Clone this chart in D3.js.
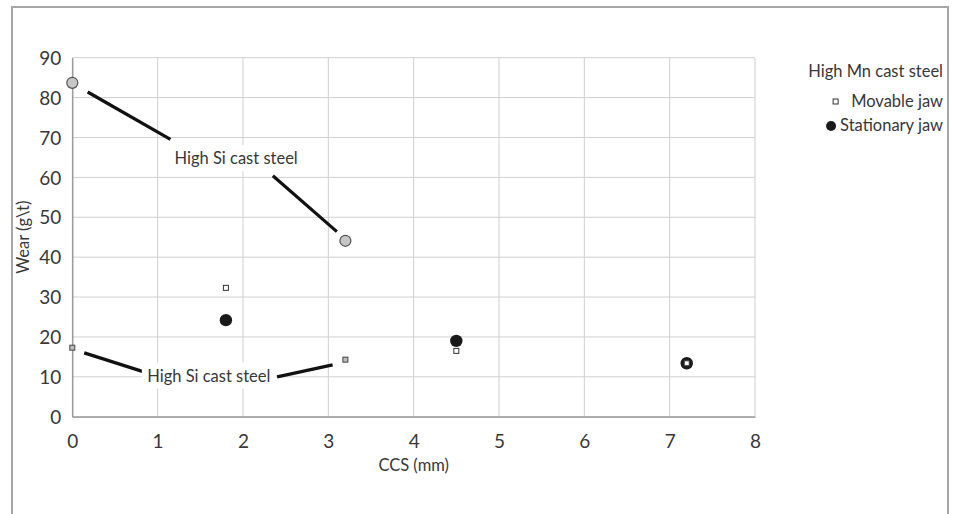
<!DOCTYPE html>
<html>
<head>
<meta charset="utf-8">
<script src="https://cdn.jsdelivr.net/npm/d3@7"></script>
<style>
  body { margin: 0; background: #fff; }
  text { font-family: Lato, "Open Sans", sans-serif; font-weight: 400; fill: #383838; }
</style>
</head>
<body>
<div id="chart"></div>
<script>

// data
const xTicks = [0, 1, 2, 3, 4, 5, 6, 7, 8];
const yTicks = [0, 10, 20, 30, 40, 50, 60, 70, 80, 90];

// High Si cast steel (grey markers)
const siStationaryX = [0, 3.2];
const siStationaryY = [83.7, 44.1];
const siMovableX = [0, 3.2];
const siMovableY = [17.3, 14.3];

// High Mn cast steel
const mnMovableX = [1.8, 4.5, 7.2];
const mnMovableY = [32.3, 16.5, 13.4];
const mnStationaryX = [1.8, 4.5, 7.2];
const mnStationaryY = [24.2, 19.0, 13.4];

// callout lines, in data units
const calloutLines = [
  [[0.18, 81.4], [1.15, 69.5]],
  [[2.35, 60.4], [3.10, 46.4]],
  [[0.14, 16.0], [0.83, 11.3]],
  [[2.40, 10.0], [3.05, 13.0]]
];
const calloutLabels = [
  {x: 1.92, y: 63.3, text: "High Si cast steel"},
  {x: 1.60, y: 8.8, text: "High Si cast steel"}
];

const legendTitle = "High Mn cast steel";
const legendItems = ["Movable jaw", "Stationary jaw"];

// set the dimensions
const W = 955, H = 514;
const margin = {top: 57.7, left: 72.3},
    width = 755 - 72.3,
    height = 416.7 - 57.7;
const fs = 16.5;

const svg = d3.select("#chart")
  .append("svg")
    .attr("width", W)
    .attr("height", H);

// outer frame
svg.append("rect")
    .attr("x", 12).attr("y", 7)
    .attr("width", 936).attr("height", 560)
    .attr("fill", "none")
    .attr("stroke", "#a6a6a6")
    .attr("stroke-width", 2);

const g = svg.append("g")
    .attr("transform", `translate(${margin.left},${margin.top})`);

const x = d3.scaleLinear().domain([0, 8]).range([0, width]);
const y = d3.scaleLinear().domain([0, 90]).range([height, 0]);

// grid
g.append("g")
  .selectAll("line")
  .data(xTicks)
  .join("line")
    .attr("x1", d => x(d)).attr("x2", d => x(d))
    .attr("y1", 0).attr("y2", height)
    .attr("stroke", "#d0d0d0");
g.append("g")
  .selectAll("line")
  .data(yTicks)
  .join("line")
    .attr("x1", 0).attr("x2", width)
    .attr("y1", d => y(d)).attr("y2", d => y(d))
    .attr("stroke", "#d0d0d0");

// axes
const xAxis = g.append("g")
    .attr("transform", `translate(0,${height})`)
    .call(d3.axisBottom(x).tickValues(xTicks).tickSize(0).tickPadding(18));
const yAxis = g.append("g")
    .call(d3.axisLeft(y).tickValues(yTicks).tickSize(0).tickPadding(11));
[xAxis, yAxis].forEach(a => {
  a.select(".domain").attr("stroke", "#8c8c8c").attr("stroke-width", 1.2);
  a.selectAll("text")
    .style("font-family", "Lato, sans-serif")
    .style("font-size", "19px")
    .attr("fill", "#383838");
});
yAxis.selectAll("text").attr("dy", "0.35em");

// axis titles
svg.append("text")
    .attr("x", margin.left + width / 2)
    .attr("y", 471)
    .attr("text-anchor", "middle")
    .style("font-size", fs + "px")
    .text("CCS (mm)");
svg.append("text")
    .attr("transform", `translate(29,${margin.top + height / 2}) rotate(-90)`)
    .attr("text-anchor", "middle")
    .style("font-size", fs + "px")
    .text("Wear (g\\t)");

// callouts
g.append("g")
  .selectAll("line")
  .data(calloutLines)
  .join("line")
    .attr("x1", d => x(d[0][0])).attr("y1", d => y(d[0][1]))
    .attr("x2", d => x(d[1][0])).attr("y2", d => y(d[1][1]))
    .attr("stroke", "#111")
    .attr("stroke-width", 3.2);

const lab = g.append("g")
  .selectAll("g")
  .data(calloutLabels)
  .join("g")
    .attr("transform", d => `translate(${x(d.x)},${y(d.y)})`);
lab.append("rect")
    .attr("x", -67).attr("y", -19)
    .attr("width", 134).attr("height", 26)
    .attr("fill", "#fff");
lab.append("text")
    .attr("text-anchor", "middle")
    .style("font-size", fs + "px")
    .text(d => d.text);

// markers
function pts(xs, ys) { return xs.map((v, i) => ({x: v, y: ys[i]})); }

g.append("g")
  .selectAll("circle")
  .data(pts(siStationaryX, siStationaryY))
  .join("circle")
    .attr("cx", d => x(d.x)).attr("cy", d => y(d.y))
    .attr("r", 5.5)
    .attr("fill", "#c6c6c6")
    .attr("stroke", "#555")
    .attr("stroke-width", 1.2);

g.append("g")
  .selectAll("circle")
  .data(pts(mnStationaryX, mnStationaryY))
  .join("circle")
    .attr("cx", d => x(d.x)).attr("cy", d => y(d.y))
    .attr("r", 6.2)
    .attr("fill", "#1a1a1a");

g.append("g")
  .selectAll("rect")
  .data(pts(siMovableX, siMovableY))
  .join("rect")
    .attr("x", d => x(d.x) - 2.5).attr("y", d => y(d.y) - 2.5)
    .attr("width", 5).attr("height", 5)
    .attr("fill", "#bdbdbd")
    .attr("stroke", "#444")
    .attr("stroke-width", 1);

g.append("g")
  .selectAll("rect")
  .data(pts(mnMovableX, mnMovableY))
  .join("rect")
    .attr("x", d => x(d.x) - 2.5).attr("y", d => y(d.y) - 2.5)
    .attr("width", 5).attr("height", 5)
    .attr("fill", "#fff")
    .attr("stroke", "#333")
    .attr("stroke-width", 1);

// legend
const leg = svg.append("g").attr("transform", "translate(943,0)");
leg.append("text")
    .attr("y", 77)
    .attr("text-anchor", "end")
    .style("font-size", fs + "px")
    .text(legendTitle);
const items = leg.selectAll(".item")
  .data(legendItems)
  .join("text")
    .attr("class", "item")
    .attr("y", (d, i) => 107 + i * 24)
    .attr("text-anchor", "end")
    .style("font-size", fs + "px")
    .text(d => d);
const w0 = items.nodes()[0].getComputedTextLength();
const w1 = items.nodes()[1].getComputedTextLength();
leg.append("rect")
    .attr("x", -w0 - 18).attr("y", 99)
    .attr("width", 5).attr("height", 5)
    .attr("fill", "#fff")
    .attr("stroke", "#333");
leg.append("circle")
    .attr("cx", -w1 - 9).attr("cy", 126)
    .attr("r", 5)
    .attr("fill", "#1a1a1a");

</script>
</body>
</html>
